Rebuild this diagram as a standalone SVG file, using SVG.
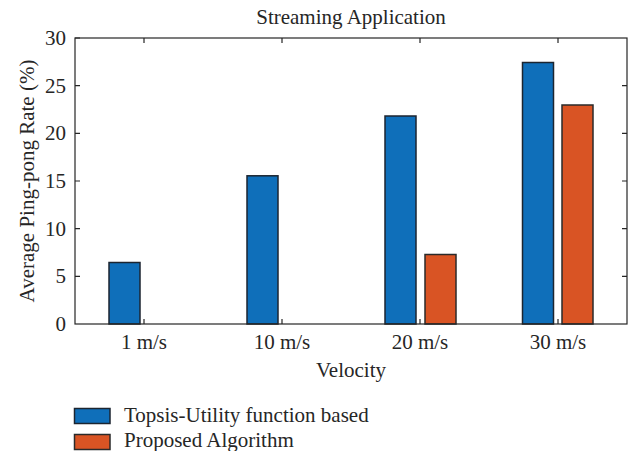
<svg xmlns="http://www.w3.org/2000/svg" width="635" height="451" viewBox="0 0 635 451">
<style>
text{font-family:"Liberation Serif","Times New Roman",serif;fill:#262626;font-size:21px}
.t{text-anchor:middle}
.yl{text-anchor:end}
.b{fill:#0F6FBA;stroke:#1c2530;stroke-width:1.5}
.o{fill:#D95424;stroke:#2a2a2a;stroke-width:1.5}
.ax{fill:none;stroke:#262626;stroke-width:1.2}
.tk{stroke:#262626;stroke-width:1.2}
</style>
<rect width="635" height="451" fill="#fff"/>
<text class="t" x="351" y="24">Streaming Application</text>
<g id="bars">
<rect class="b" x="109" y="262.5" width="31" height="61.5"/>
<rect class="b" x="247" y="175.8" width="31" height="148.2"/>
<rect class="b" x="385" y="116" width="31" height="208"/>
<rect class="o" x="425" y="254.5" width="31" height="69.5"/>
<rect class="b" x="522.5" y="62.5" width="31" height="261.5"/>
<rect class="o" x="562" y="105" width="31" height="219"/>
</g>
<g id="axes">
<rect class="ax" x="75" y="38" width="552" height="286"/>
<path class="tk" d="M144 324v-5M282 324v-5M420 324v-5M558 324v-5M144 38v5M282 38v5M420 38v5M558 38v5M75 38h5M75 85.7h5M75 133.3h5M75 181h5M75 228.7h5M75 276.3h5M627 85.7h-5M627 133.3h-5M627 181h-5M627 228.7h-5M627 276.3h-5"/>
</g>
<g id="ylabels">
<text class="yl" x="66" y="45">30</text>
<text class="yl" x="66" y="92.7">25</text>
<text class="yl" x="66" y="140.3">20</text>
<text class="yl" x="66" y="188">15</text>
<text class="yl" x="66" y="235.7">10</text>
<text class="yl" x="66" y="283.3">5</text>
<text class="yl" x="66" y="331">0</text>
</g>
<g id="xlabels">
<text class="t" x="144" y="349">1 m/s</text>
<text class="t" x="282" y="349">10 m/s</text>
<text class="t" x="420" y="349">20 m/s</text>
<text class="t" x="558" y="349">30 m/s</text>
<text class="t" x="351" y="377">Velocity</text>
<text class="t" transform="translate(34 181) rotate(-90)">Average Ping-pong Rate (%)</text>
</g>
<g id="legend">
<rect class="b" x="74.5" y="408.5" width="35.5" height="15"/>
<text x="124" y="422">Topsis-Utility function based</text>
<rect class="o" x="74.5" y="434.5" width="35.5" height="15"/>
<text x="124" y="447">Proposed Algorithm</text>
</g>
</svg>
